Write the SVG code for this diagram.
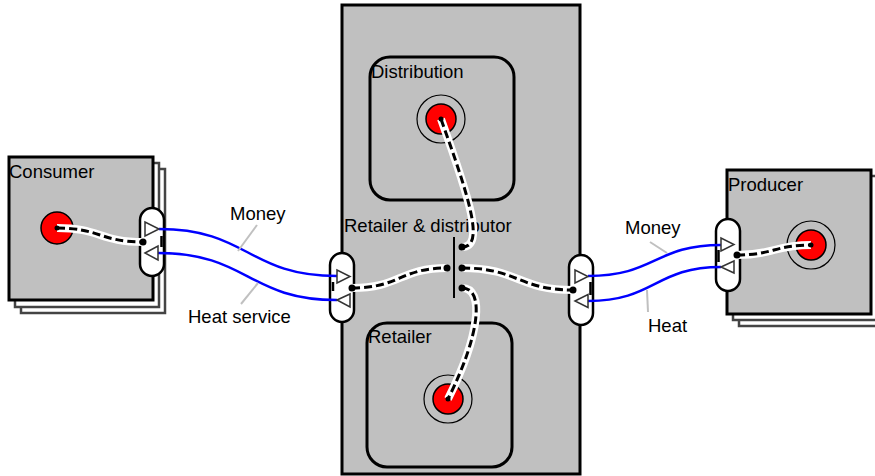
<svg xmlns="http://www.w3.org/2000/svg" width="875" height="476" viewBox="0 0 875 476">
<style>
.box{fill:#c0c0c0;stroke:#000;stroke-width:3}
.back{fill:#fff;stroke:#444;stroke-width:2.5}
.inner{fill:none;stroke:#000;stroke-width:3}
.lbl{font-family:"Liberation Sans",Arial,sans-serif;font-size:18.5px;fill:#000}
.port{fill:#fff;stroke:#000;stroke-width:2.5}
.tri{fill:#fff;stroke:#333;stroke-width:1.5}
.pdash{stroke:#000;stroke-width:2.5}
.red{fill:#f00;stroke:#000;stroke-width:1.5}
.ring{fill:#c0c0c0;stroke:#000;stroke-width:1.2}
.halo{fill:none;stroke:#fff;stroke-width:8}
.dash{fill:none;stroke:#000;stroke-width:3;stroke-dasharray:8 4}
.flow{fill:none;stroke:#0000ff;stroke-width:2.5}
.leader{stroke:#c0c0c0;stroke-width:2}
.dot{fill:#000}
</style>
<rect width="875" height="476" fill="#fff"/>

<g id="consumer">
  <rect class="back" x="21" y="169" width="144" height="144"/>
  <rect class="back" x="15" y="163" width="144" height="144"/>
  <rect class="box" x="9" y="157" width="144" height="143"/>
  <text class="lbl" x="9" y="178">Consumer</text>
  <circle class="red" cx="57" cy="228" r="16"/>
  <rect class="port" x="140" y="208" width="24" height="68" rx="12"/>
</g>

<g id="producer">
  <rect class="back" x="739" y="182" width="144" height="144"/>
  <rect class="back" x="733" y="176" width="144" height="144"/>
  <rect class="box" x="727" y="170" width="144" height="144"/>
  <text class="lbl" x="728" y="191">Producer</text>
  <circle class="ring" cx="811" cy="245" r="24"/>
  <circle class="red" cx="811" cy="245" r="15"/>
  <rect class="port" x="716" y="219" width="24" height="72" rx="12"/>
</g>

<g id="retailer-distributor">
  <rect class="box" x="342" y="5" width="238" height="469"/>
  <text class="lbl" x="344" y="232">Retailer &amp; distributor</text>
  <line x1="454" y1="237" x2="454" y2="298" stroke="#000" stroke-width="2"/>
  <rect class="port" x="330" y="253" width="24" height="69" rx="12"/>
  <rect class="port" x="569" y="255" width="24" height="70" rx="12"/>
</g>

<g id="distribution">
  <rect class="inner" x="370" y="57" width="144" height="143" rx="20"/>
  <text class="lbl" x="371" y="78">Distribution</text>
  <circle class="ring" cx="441" cy="119" r="24"/>
  <circle class="red" cx="441" cy="119" r="15"/>
</g>

<g id="retailer">
  <rect class="inner" x="367" y="323" width="145" height="144" rx="20"/>
  <text class="lbl" x="368" y="343">Retailer</text>
  <circle class="ring" cx="448" cy="399" r="24"/>
  <circle class="red" cx="448" cy="399" r="15"/>
</g>

<g id="connectors">
  <g id="internal-links">
    <path class="halo" d="M57,228 C100,228 100,242 143,242"/>
    <path class="dash" d="M57,228 C100,228 100,242 143,242"/>
    <path class="halo" d="M352,288 C400,288 400,268 447,268"/>
    <path class="dash" d="M352,288 C400,288 400,268 447,268"/>
    <path class="halo" d="M462,268 C518,268 518,290 573,290"/>
    <path class="dash" d="M462,268 C518,268 518,290 573,290"/>
    <path class="halo" d="M737,255 C774,255 774,245 811,245"/>
    <path class="dash" d="M737,255 C774,255 774,245 811,245"/>
    <path class="halo" d="M441,119 C470,200 485,247 462,247"/>
    <path class="dash" d="M441,119 C470,200 485,247 462,247"/>
    <path class="halo" d="M462,288 C485,288 480,335 448,399"/>
    <path class="dash" d="M462,288 C485,288 480,335 448,399"/>
  </g>
  <g id="flows">
    <path class="flow" d="M159,229 C248,229 248,276 337,276"/>
    <path class="flow" d="M158,253 C248,253 248,300 337,300"/>
    <path class="flow" d="M588,276 C655,276 655,245 721,245"/>
    <path class="flow" d="M588,301 C655,301 655,267 721,267"/>
  </g>
  <g id="flow-labels">
    <line class="leader" x1="257" y1="225" x2="238" y2="251"/>
    <line class="leader" x1="258" y1="283" x2="241" y2="304"/>
    <line class="leader" x1="650" y1="242" x2="667" y2="253"/>
    <line class="leader" x1="647" y1="290" x2="648" y2="312"/>
    <text class="lbl" x="230" y="220">Money</text>
    <text class="lbl" x="188" y="323">Heat service</text>
    <text class="lbl" x="625" y="234">Money</text>
    <text class="lbl" x="648" y="332">Heat</text>
  </g>
</g>

<g id="port-markers">
  <polygon class="tri" points="145,222 145,236 159,229"/>
  <polygon class="tri" points="145,253 158,246 158,260"/>
  <line class="pdash" x1="161.5" y1="236" x2="161.5" y2="247"/>
  <circle class="dot" cx="143" cy="242" r="3.5"/>

  <polygon class="tri" points="337,270 337,283 350,276.5"/>
  <polygon class="tri" points="337,300 350,294 350,307"/>
  <line class="pdash" x1="333" y1="282" x2="333" y2="291"/>
  <circle class="dot" cx="352" cy="288" r="3.5"/>

  <polygon class="tri" points="575,270 575,283 588,276.5"/>
  <polygon class="tri" points="575,301 588,294.5 588,307.5"/>
  <line class="pdash" x1="590.5" y1="282" x2="590.5" y2="295"/>
  <circle class="dot" cx="573" cy="290" r="3.5"/>

  <polygon class="tri" points="721,238 721,251 734,244.5"/>
  <polygon class="tri" points="721,267 734,261 734,273"/>
  <line class="pdash" x1="718.5" y1="250" x2="718.5" y2="262"/>
  <circle class="dot" cx="737" cy="255" r="3.5"/>

  <circle class="dot" cx="447" cy="268" r="3.5"/>
  <circle class="dot" cx="462" cy="268" r="3.5"/>
  <circle class="dot" cx="462" cy="247" r="3.5"/>
  <circle class="dot" cx="462" cy="288" r="3.5"/>
  <circle class="dot" cx="57" cy="228" r="2.5"/>
  <circle class="dot" cx="441" cy="119" r="2.5"/>
  <circle class="dot" cx="448" cy="399" r="2.5"/>
  <circle class="dot" cx="811" cy="245" r="2.5"/>
</g>
</svg>
